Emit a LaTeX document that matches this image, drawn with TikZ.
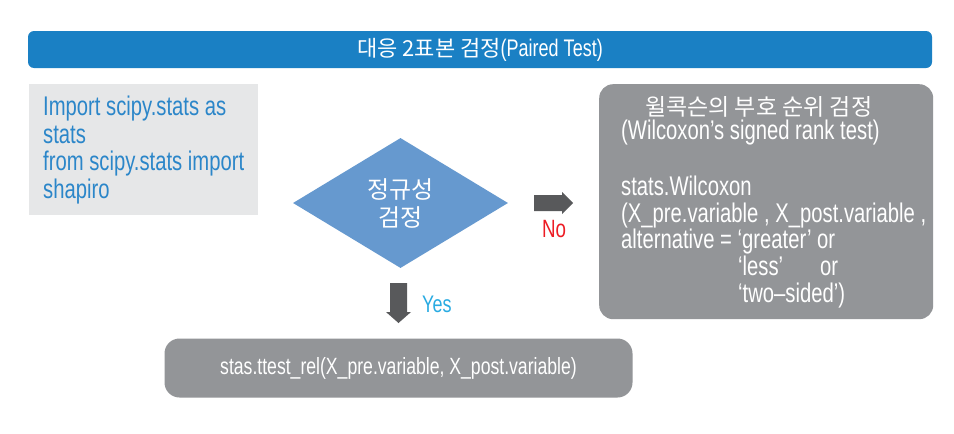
\documentclass[tikz,border=0pt]{standalone}
\usepackage{fontspec}
\setmainfont{Liberation Sans}[FakeStretch=0.75]
\newfontfamily\kr{Noto Sans CJK KR}
\usetikzlibrary{shapes.geometric}
\definecolor{titleblue}{HTML}{1A80C4}
\definecolor{codegrey}{HTML}{E6E7E8}
\definecolor{codeblue}{HTML}{2B86C9}
\definecolor{diamblue}{HTML}{6699CF}
\definecolor{boxgrey}{HTML}{939598}
\definecolor{arrowgrey}{HTML}{58595B}
\definecolor{nored}{HTML}{ED1C24}
\definecolor{yescyan}{HTML}{29ABE2}
\begin{document}
\begin{tikzpicture}[x=1pt,y=-1pt,
  codetxt/.style={anchor=base west,inner sep=0,text=codeblue,font=\fontsize{27}{28}\selectfont},
  wtxt/.style={anchor=base west,inner sep=0,text=white,font=\fontsize{27}{28}\selectfont},
  greybox/.style={fill=boxgrey,draw=none,inner sep=0},
  blockarrow/.style={fill=arrowgrey,draw=none}]
\useasboundingbox (0,0) rectangle (954,434);
\fill[white] (0,0) rectangle (954,434);
% title
\node[fill=titleblue,rounded corners=6pt,minimum width=904pt,minimum height=37pt,inner sep=0,text=white,font=\fontsize{24}{25}\selectfont] (title) at (480,49.5) {{\kr\fontsize{22}{25}\selectfont 대응 2표본 검정}(Paired Test)};
% code box
\node[fill=codegrey,minimum width=229pt,minimum height=131pt,inner sep=0,anchor=north west] (code) at (29,84) {};
\node[codetxt] (c1) at (43,115) {Import scipy.stats as};
\node[codetxt] (c2) at (43,143) {stats};
\node[codetxt] (c3) at (43,170) {from scipy.stats import};
\node[codetxt] (c4) at (43,198) {shapiro};
% diamond
\node[diamond,fill=diamblue,minimum width=215pt,minimum height=130pt,inner sep=0,text=white,align=center,font=\kr\fontsize{24}{28}\selectfont] (norm) at (400.5,203) {정규성\\검정};
% right arrow
\fill[blockarrow] (534,195) -- (562,195) -- (562,192) -- (573,203) -- (562,214) -- (562,211) -- (534,211) -- cycle;
\node[anchor=base west,inner sep=0,text=nored,font=\fontsize{25}{26}\selectfont] (no) at (542,237) {No};
% down arrow
\fill[blockarrow] (390,283) -- (407,283) -- (407,312) -- (411,312) -- (398.5,323) -- (386,312) -- (390,312) -- cycle;
\node[anchor=base west,inner sep=0,text=yescyan,font=\fontsize{24}{25}\selectfont] (yes) at (422,312) {Yes};
% wilcoxon box
\node[greybox,rounded corners=14pt,minimum width=334pt,minimum height=235pt,anchor=north west] (wbox) at (599,84) {};
\node[wtxt,font=\kr\fontsize{23}{24}\selectfont] (w1) at (645,115.5) {윌콕슨의 부호 순위 검정};
\node[wtxt] (w2) at (621,139) {(Wilcoxon’s signed rank test)};
\node[wtxt] (w3) at (621,195) {stats.Wilcoxon};
\node[wtxt] (w4) at (621,222) {(X\_pre.variable , X\_post.variable ,};
\node[wtxt] (w5) at (621,248) {alternative = ‘greater’ or};
\node[wtxt] (w6) at (738,275) {‘less’};
\node[wtxt] (w6b) at (820,275) {or};
\node[wtxt] (w7) at (738,302) {‘two–sided’)};
% ttest box
\node[greybox,rounded corners=15pt,minimum width=468pt,minimum height=59pt,text=white,font=\fontsize{23.5}{24}\selectfont] (ttest) at (398.5,368) {stas.ttest\_rel(X\_pre.variable, X\_post.variable)};
\end{tikzpicture}
\end{document}
